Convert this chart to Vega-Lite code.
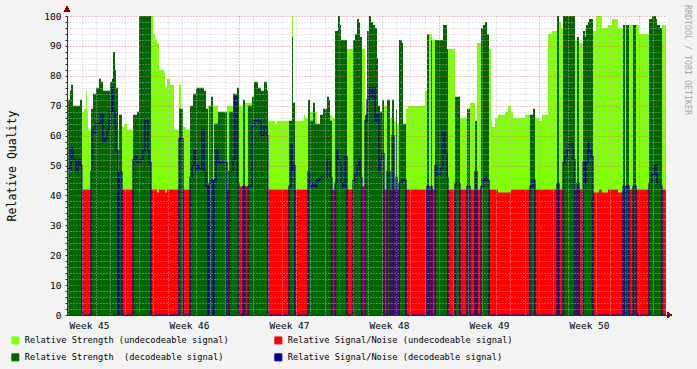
{
"$schema": "https://vega.github.io/schema/vega-lite/v6.json",
"width": 600, "height": 299,
"autosize": {"type": "none"},
"padding": {"left": 67, "top": 16, "right": 30, "bottom": 54},
"background": "#F3F3F3",
"view": {"fill": "#FFFFFF", "stroke": null},
"config": {"font": "DejaVu Sans Mono", "axis": {"labelOverlap": false}, "axisY": {"labelOverlap": false}},
"title": {"text": "RRDTOOL / TOBI OETIKER", "orient": "right", "anchor": "start", "frame": "group", "font": "DejaVu Sans Mono", "fontSize": 8.3, "fontWeight": "normal", "color": "#A8A8A8", "offset": 12, "dx": -11},
"data": {"values": [
{"t":1.96,"su":0,"nu":0,"sd":72,"nd":49},
{"t":2.17,"su":0,"nu":0,"sd":75,"nd":49},
{"t":2.24,"su":0,"nu":0,"sd":77,"nd":56},
{"t":2.38,"su":0,"nu":0,"sd":70,"nd":52},
{"t":2.59,"su":0,"nu":0,"sd":70,"nd":48},
{"t":2.73,"su":0,"nu":0,"sd":70,"nd":52},
{"t":2.87,"su":0,"nu":0,"sd":72,"nd":50},
{"t":3.01,"su":68,"nu":42,"sd":0,"nd":0},
{"t":3.15,"su":69,"nu":42,"sd":0,"nd":0},
{"t":3.29,"su":75,"nu":42,"sd":0,"nd":0},
{"t":3.36,"su":68,"nu":42,"sd":0,"nd":0},
{"t":3.43,"su":62,"nu":42,"sd":0,"nd":0},
{"t":3.64,"su":0,"nu":0,"sd":69,"nd":48},
{"t":3.71,"su":0,"nu":0,"sd":69,"nd":62},
{"t":3.78,"su":0,"nu":0,"sd":74,"nd":61},
{"t":3.99,"su":0,"nu":0,"sd":76,"nd":64},
{"t":4.2,"su":0,"nu":0,"sd":79,"nd":64},
{"t":4.34,"su":0,"nu":0,"sd":78,"nd":67},
{"t":4.48,"su":0,"nu":0,"sd":75,"nd":58},
{"t":4.62,"su":0,"nu":0,"sd":75,"nd":59},
{"t":4.76,"su":0,"nu":0,"sd":75,"nd":62},
{"t":4.9,"su":0,"nu":0,"sd":75,"nd":65},
{"t":4.97,"su":0,"nu":0,"sd":78,"nd":68},
{"t":5.11,"su":0,"nu":0,"sd":79,"nd":76},
{"t":5.18,"su":0,"nu":0,"sd":88,"nd":68},
{"t":5.32,"su":0,"nu":0,"sd":82,"nd":64},
{"t":5.39,"su":0,"nu":0,"sd":76,"nd":55},
{"t":5.53,"su":62,"nu":43,"sd":0,"nd":0},
{"t":5.6,"su":0,"nu":0,"sd":67,"nd":48},
{"t":5.81,"su":63,"nu":42,"sd":0,"nd":0},
{"t":5.95,"su":64,"nu":42,"sd":0,"nd":0},
{"t":6.16,"su":62,"nu":42,"sd":0,"nd":0},
{"t":6.58,"su":0,"nu":0,"sd":67,"nd":52},
{"t":6.72,"su":0,"nu":0,"sd":67,"nd":53},
{"t":6.86,"su":0,"nu":0,"sd":68,"nd":51},
{"t":7.0,"su":0,"nu":0,"sd":100,"nd":51},
{"t":7.07,"su":0,"nu":0,"sd":100,"nd":52},
{"t":7.28,"su":0,"nu":0,"sd":100,"nd":55},
{"t":7.42,"su":0,"nu":0,"sd":100,"nd":65},
{"t":7.63,"su":0,"nu":0,"sd":100,"nd":55},
{"t":7.7,"su":0,"nu":0,"sd":100,"nd":51},
{"t":7.84,"su":100,"nu":42,"sd":0,"nd":0},
{"t":7.98,"su":94,"nu":42,"sd":0,"nd":0},
{"t":8.12,"su":92,"nu":42,"sd":0,"nd":0},
{"t":8.26,"su":91,"nu":41,"sd":0,"nd":0},
{"t":8.4,"su":82,"nu":42,"sd":0,"nd":0},
{"t":8.75,"su":81,"nu":42,"sd":0,"nd":0},
{"t":8.82,"su":76,"nu":41,"sd":0,"nd":0},
{"t":8.96,"su":79,"nu":42,"sd":0,"nd":0},
{"t":9.17,"su":77,"nu":42,"sd":0,"nd":0},
{"t":9.45,"su":62,"nu":42,"sd":0,"nd":0},
{"t":9.8,"su":77,"nu":0,"sd":69,"nd":59},
{"t":9.94,"su":0,"nu":0,"sd":69,"nd":59},
{"t":10.08,"su":63,"nu":42,"sd":0,"nd":0},
{"t":10.29,"su":62,"nu":42,"sd":0,"nd":0},
{"t":10.57,"su":0,"nu":0,"sd":70,"nd":46},
{"t":10.71,"su":0,"nu":0,"sd":70,"nd":50},
{"t":10.78,"su":0,"nu":0,"sd":74,"nd":50},
{"t":10.85,"su":0,"nu":0,"sd":74,"nd":55},
{"t":10.99,"su":0,"nu":0,"sd":76,"nd":48},
{"t":11.06,"su":0,"nu":0,"sd":76,"nd":50},
{"t":11.2,"su":0,"nu":0,"sd":76,"nd":49},
{"t":11.41,"su":0,"nu":0,"sd":76,"nd":62},
{"t":11.55,"su":0,"nu":0,"sd":75,"nd":48},
{"t":11.69,"su":0,"nu":0,"sd":69,"nd":43},
{"t":11.83,"su":70,"nu":42,"sd":0,"nd":0},
{"t":11.9,"su":70,"nu":0,"sd":70,"nd":44},
{"t":12.04,"su":70,"nu":0,"sd":73,"nd":45},
{"t":12.18,"su":70,"nu":42,"sd":0,"nd":0},
{"t":12.25,"su":70,"nu":0,"sd":64,"nd":45},
{"t":12.39,"su":70,"nu":0,"sd":64,"nd":55},
{"t":12.53,"su":0,"nu":0,"sd":68,"nd":51},
{"t":13.16,"su":70,"nu":42,"sd":0,"nd":0},
{"t":13.3,"su":70,"nu":0,"sd":68,"nd":48},
{"t":13.58,"su":70,"nu":0,"sd":74,"nd":52},
{"t":13.72,"su":0,"nu":0,"sd":74,"nd":73},
{"t":13.86,"su":0,"nu":0,"sd":76,"nd":44},
{"t":14.0,"su":70,"nu":43,"sd":0,"nd":0},
{"t":14.28,"su":71,"nu":0,"sd":72,"nd":43},
{"t":14.42,"su":71,"nu":43,"sd":0,"nd":0},
{"t":14.63,"su":71,"nu":0,"sd":70,"nd":43},
{"t":14.91,"su":0,"nu":0,"sd":73,"nd":63},
{"t":15.05,"su":0,"nu":0,"sd":78,"nd":65},
{"t":15.33,"su":0,"nu":0,"sd":76,"nd":65},
{"t":15.54,"su":0,"nu":0,"sd":75,"nd":60},
{"t":15.75,"su":0,"nu":0,"sd":78,"nd":63},
{"t":15.96,"su":0,"nu":0,"sd":75,"nd":60},
{"t":16.03,"su":65,"nu":42,"sd":0,"nd":0},
{"t":16.52,"su":64,"nu":42,"sd":0,"nd":0},
{"t":16.66,"su":65,"nu":42,"sd":0,"nd":0},
{"t":17.5,"su":0,"nu":0,"sd":65,"nd":43},
{"t":17.64,"su":0,"nu":0,"sd":65,"nd":57},
{"t":17.71,"su":100,"nu":0,"sd":93,"nd":48},
{"t":17.78,"su":0,"nu":0,"sd":71,"nd":50},
{"t":17.92,"su":65,"nu":42,"sd":0,"nd":0},
{"t":18.55,"su":67,"nu":42,"sd":0,"nd":0},
{"t":18.62,"su":66,"nu":42,"sd":0,"nd":0},
{"t":18.83,"su":0,"nu":0,"sd":72,"nd":48},
{"t":18.97,"su":68,"nu":0,"sd":65,"nd":43},
{"t":19.18,"su":0,"nu":0,"sd":71,"nd":44},
{"t":19.32,"su":68,"nu":0,"sd":64,"nd":43},
{"t":19.46,"su":0,"nu":0,"sd":64,"nd":45},
{"t":19.67,"su":0,"nu":0,"sd":67,"nd":46},
{"t":19.88,"su":0,"nu":0,"sd":69,"nd":46},
{"t":20.16,"su":0,"nu":0,"sd":73,"nd":52},
{"t":20.3,"su":0,"nu":0,"sd":72,"nd":52},
{"t":20.37,"su":67,"nu":0,"sd":65,"nd":46},
{"t":20.51,"su":66,"nu":42,"sd":0,"nd":0},
{"t":20.72,"su":0,"nu":0,"sd":95,"nd":44},
{"t":20.86,"su":0,"nu":0,"sd":95,"nd":55},
{"t":20.93,"su":0,"nu":0,"sd":100,"nd":52},
{"t":21.07,"su":0,"nu":0,"sd":97,"nd":50},
{"t":21.14,"su":92,"nu":0,"sd":92,"nd":44},
{"t":21.28,"su":92,"nu":0,"sd":92,"nd":43},
{"t":21.42,"su":92,"nu":0,"sd":92,"nd":53},
{"t":21.56,"su":89,"nu":42,"sd":0,"nd":0},
{"t":21.98,"su":0,"nu":0,"sd":92,"nd":45},
{"t":22.12,"su":0,"nu":0,"sd":94,"nd":47},
{"t":22.26,"su":0,"nu":0,"sd":99,"nd":50},
{"t":22.4,"su":0,"nu":0,"sd":98,"nd":52},
{"t":22.47,"su":0,"nu":0,"sd":93,"nd":46},
{"t":22.61,"su":89,"nu":43,"sd":0,"nd":0},
{"t":22.82,"su":0,"nu":0,"sd":67,"nd":65},
{"t":22.96,"su":0,"nu":0,"sd":95,"nd":72},
{"t":23.1,"su":0,"nu":0,"sd":100,"nd":76},
{"t":23.24,"su":0,"nu":0,"sd":98,"nd":73},
{"t":23.38,"su":0,"nu":0,"sd":97,"nd":76},
{"t":23.52,"su":0,"nu":0,"sd":96,"nd":65},
{"t":23.66,"su":0,"nu":0,"sd":86,"nd":67},
{"t":23.73,"su":0,"nu":0,"sd":70,"nd":67},
{"t":23.8,"su":0,"nu":0,"sd":70,"nd":48},
{"t":23.87,"su":0,"nu":0,"sd":68,"nd":52},
{"t":24.01,"su":0,"nu":0,"sd":72,"nd":54},
{"t":24.15,"su":70,"nu":42,"sd":0,"nd":0},
{"t":24.36,"su":0,"nu":0,"sd":72,"nd":48},
{"t":24.57,"su":66,"nu":42,"sd":0,"nd":0},
{"t":24.71,"su":0,"nu":0,"sd":72,"nd":60},
{"t":24.85,"su":65,"nu":42,"sd":0,"nd":0},
{"t":24.99,"su":0,"nu":0,"sd":69,"nd":46},
{"t":25.06,"su":64,"nu":42,"sd":0,"nd":0},
{"t":25.2,"su":0,"nu":0,"sd":92,"nd":44},
{"t":25.41,"su":0,"nu":0,"sd":91,"nd":45},
{"t":25.48,"su":0,"nu":0,"sd":64,"nd":45},
{"t":25.69,"su":69,"nu":42,"sd":0,"nd":0},
{"t":25.83,"su":70,"nu":42,"sd":0,"nd":0},
{"t":27.02,"su":75,"nu":42,"sd":0,"nd":0},
{"t":27.16,"su":0,"nu":0,"sd":94,"nd":43},
{"t":27.3,"su":94,"nu":42,"sd":0,"nd":0},
{"t":27.44,"su":94,"nu":0,"sd":92,"nd":43},
{"t":27.51,"su":92,"nu":42,"sd":0,"nd":0},
{"t":27.72,"su":0,"nu":0,"sd":92,"nd":50},
{"t":27.86,"su":0,"nu":0,"sd":92,"nd":47},
{"t":28.07,"su":0,"nu":0,"sd":92,"nd":49},
{"t":28.28,"su":0,"nu":0,"sd":97,"nd":61},
{"t":28.42,"su":0,"nu":0,"sd":97,"nd":54},
{"t":28.56,"su":89,"nu":0,"sd":89,"nd":46},
{"t":28.63,"su":89,"nu":42,"sd":0,"nd":0},
{"t":29.12,"su":73,"nu":0,"sd":73,"nd":44},
{"t":29.26,"su":0,"nu":0,"sd":73,"nd":44},
{"t":29.47,"su":66,"nu":42,"sd":0,"nd":0},
{"t":29.96,"su":0,"nu":0,"sd":69,"nd":43},
{"t":30.17,"su":71,"nu":42,"sd":0,"nd":0},
{"t":30.52,"su":0,"nu":0,"sd":65,"nd":48},
{"t":30.66,"su":91,"nu":42,"sd":0,"nd":0},
{"t":30.94,"su":0,"nu":0,"sd":96,"nd":43},
{"t":31.08,"su":0,"nu":0,"sd":97,"nd":45},
{"t":31.22,"su":0,"nu":0,"sd":98,"nd":46},
{"t":31.36,"su":0,"nu":0,"sd":94,"nd":45},
{"t":31.5,"su":89,"nu":42,"sd":0,"nd":0},
{"t":31.64,"su":65,"nu":42,"sd":0,"nd":0},
{"t":31.71,"su":63,"nu":42,"sd":0,"nd":0},
{"t":31.92,"su":66,"nu":42,"sd":0,"nd":0},
{"t":32.13,"su":67,"nu":41,"sd":0,"nd":0},
{"t":32.62,"su":68,"nu":41,"sd":0,"nd":0},
{"t":32.83,"su":70,"nu":41,"sd":0,"nd":0},
{"t":33.04,"su":68,"nu":42,"sd":0,"nd":0},
{"t":33.18,"su":66,"nu":42,"sd":0,"nd":0},
{"t":34.02,"su":67,"nu":42,"sd":0,"nd":0},
{"t":34.37,"su":0,"nu":0,"sd":67,"nd":43},
{"t":34.58,"su":0,"nu":0,"sd":69,"nd":45},
{"t":34.72,"su":66,"nu":42,"sd":0,"nd":0},
{"t":35.0,"su":65,"nu":42,"sd":0,"nd":0},
{"t":35.21,"su":67,"nu":42,"sd":0,"nd":0},
{"t":35.63,"su":94,"nu":42,"sd":0,"nd":0},
{"t":35.91,"su":95,"nu":42,"sd":0,"nd":0},
{"t":36.26,"su":97,"nu":0,"sd":100,"nd":44},
{"t":36.4,"su":98,"nu":42,"sd":0,"nd":0},
{"t":36.54,"su":96,"nu":42,"sd":0,"nd":0},
{"t":36.68,"su":0,"nu":0,"sd":100,"nd":51},
{"t":36.82,"su":0,"nu":0,"sd":100,"nd":53},
{"t":36.96,"su":0,"nu":0,"sd":100,"nd":55},
{"t":37.1,"su":0,"nu":0,"sd":100,"nd":58},
{"t":37.31,"su":0,"nu":0,"sd":100,"nd":56},
{"t":37.38,"su":0,"nu":0,"sd":100,"nd":52},
{"t":37.52,"su":92,"nu":42,"sd":0,"nd":0},
{"t":37.66,"su":93,"nu":0,"sd":93,"nd":44},
{"t":37.8,"su":91,"nu":42,"sd":0,"nd":0},
{"t":38.08,"su":0,"nu":0,"sd":95,"nd":51},
{"t":38.22,"su":96,"nu":0,"sd":93,"nd":44},
{"t":38.29,"su":0,"nu":0,"sd":97,"nd":51},
{"t":38.43,"su":0,"nu":0,"sd":98,"nd":58},
{"t":38.5,"su":0,"nu":0,"sd":99,"nd":55},
{"t":38.64,"su":0,"nu":0,"sd":99,"nd":53},
{"t":38.78,"su":95,"nu":41,"sd":0,"nd":0},
{"t":38.99,"su":100,"nu":41,"sd":0,"nd":0},
{"t":39.2,"su":100,"nu":42,"sd":0,"nd":0},
{"t":39.41,"su":96,"nu":41,"sd":0,"nd":0},
{"t":39.83,"su":97,"nu":42,"sd":0,"nd":0},
{"t":40.11,"su":99,"nu":42,"sd":0,"nd":0},
{"t":40.53,"su":96,"nu":41,"sd":0,"nd":0},
{"t":40.88,"su":0,"nu":0,"sd":97,"nd":43},
{"t":41.02,"su":98,"nu":42,"sd":0,"nd":0},
{"t":41.09,"su":0,"nu":0,"sd":97,"nd":43},
{"t":41.3,"su":97,"nu":42,"sd":0,"nd":0},
{"t":41.58,"su":0,"nu":0,"sd":97,"nd":43},
{"t":41.79,"su":97,"nu":42,"sd":0,"nd":0},
{"t":42.0,"su":94,"nu":42,"sd":0,"nd":0},
{"t":42.7,"su":0,"nu":0,"sd":99,"nd":44},
{"t":42.91,"su":0,"nu":0,"sd":100,"nd":47},
{"t":43.05,"su":0,"nu":0,"sd":100,"nd":50},
{"t":43.19,"su":0,"nu":0,"sd":99,"nd":47},
{"t":43.26,"su":0,"nu":0,"sd":97,"nd":44},
{"t":43.47,"su":0,"nu":0,"sd":96,"nd":43},
{"t":43.61,"su":97,"nu":42,"sd":0,"nd":0},
{"t":43.89,"su":97,"nu":42,"sd":0,"nd":0}
]},
"encoding": {
  "x": {"field": "t", "type": "quantitative",
    "scale": {"domain": [1.96, 43.96], "nice": false, "zero": false},
    "axis": {
      "values": [2,3,3.5,4,5,6,7,8,9,10,10.5,11,12,13,14,15,16,17,17.5,18,19,20,21,22,23,24,24.5,25,26,27,28,29,30,31,31.5,32,33,34,35,36,37,38,38.5,39,40,41,42,43],
      "tickCount": 200,
      "labelExpr": "datum.value % 1 == 0.5 ? 'Week ' + (45 + floor(datum.value / 7)) : ''",
      "grid": true,
      "gridColor": {"condition": {"test": "datum.value % 7 == 0", "value": "#E07070"}, "value": "#C4C4C4"},
      "gridOpacity": {"condition": {"test": "datum.value % 1 != 0", "value": 0}, "value": 0.85},
      "gridDash": [1, 2],
      "ticks": false,
      "labelFont": "DejaVu Sans Mono", "labelFontSize": 9.5, "labelColor": "#000000",
      "labelPadding": 5, "labelFlush": false, "labelOverlap": false, "labelBound": false,
      "domainColor": "#333333", "title": null, "zindex": 1
    }
  }
},
"layer": [
  {"mark": {"type": "area", "interpolate": "step-after"},
   "encoding": {"y": {"field": "su", "type": "quantitative",
      "scale": {"domain": [0, 100], "nice": false},
      "axis": {
        "values": [0,2,4,6,8,10,12,14,16,18,20,22,24,26,28,30,32,34,36,38,40,42,44,46,48,50,52,54,56,58,60,62,64,66,68,70,72,74,76,78,80,82,84,86,88,90,92,94,96,98,100],
        "tickCount": 200,
        "format": "d",
        "labelExpr": "datum.value % 10 == 0 ? datum.label : ''",
        "grid": true,
        "gridColor": {"condition": {"test": "datum.value % 10 == 0", "value": "#E07070"}, "value": "#C4C4C4"},
        "gridOpacity": 0.85,
        "gridDash": [1, 2],
        "tickSize": 2, "tickColor": "#333333",
        "labelFont": "DejaVu Sans Mono", "labelFontSize": 9.5, "labelColor": "#000000",
        "labelPadding": 4, "labelOverlap": false, "labelBound": false,
        "domainColor": "#333333",
        "title": "Relative Quality", "titleFont": "DejaVu Sans Mono", "titleFontSize": 11.5,
        "titleFontWeight": "normal", "titleColor": "#000000", "titlePadding": 26,
        "zindex": 1
      }},
     "color": {"datum": "Relative Strength (undecodeable signal)", "type": "nominal",
       "scale": {"domain": ["Relative Strength (undecodeable signal)", "Relative Signal/Noise (undecodeable signal)", "Relative Strength\u00a0 (decodeable signal)", "Relative Signal/Noise (decodeable signal)"],
                 "range": ["#80FF00", "#FF0000", "#006600", "#000099"]},
       "legend": {"orient": "none", "direction": "horizontal", "legendX": -56, "legendY": 320, "columns": 2, "title": null,
         "symbolType": "square", "symbolSize": 49, "symbolStrokeColor": "#000000", "symbolStrokeWidth": 1,
         "labelFont": "DejaVu Sans Mono", "labelFontSize": 8.7, "labelColor": "#000000", "labelLimit": 400,
         "labelOffset": 5, "rowPadding": 5, "columnPadding": 43, "padding": 0,
         "encode": {"symbols": {"update": {"fill": {"scale": "color", "field": "value"}, "stroke": {"value": "#000000"}, "shape": {"value": "square"}, "strokeWidth": {"value": 1}, "opacity": {"value": 1}, "fillOpacity": {"value": 1}}}}}
     }}},
  {"mark": {"type": "area", "interpolate": "step-after"},
   "encoding": {"y": {"field": "nu", "type": "quantitative"},
     "color": {"datum": "Relative Signal/Noise (undecodeable signal)", "type": "nominal"}}},
  {"mark": {"type": "area", "interpolate": "step-after"},
   "encoding": {"y": {"field": "sd", "type": "quantitative"},
     "color": {"datum": "Relative Strength\u00a0 (decodeable signal)", "type": "nominal"}}},
  {"mark": {"type": "line", "interpolate": "step-after", "strokeWidth": 1.2},
   "encoding": {"y": {"field": "nd", "type": "quantitative"},
     "color": {"datum": "Relative Signal/Noise (decodeable signal)", "type": "nominal"}}},
  {"mark": {"type": "point", "shape": "triangle-up", "filled": true, "size": 28, "color": "#800000", "opacity": 1, "clip": false},
   "encoding": {"x": {"datum": 1.96}, "y": {"datum": 102.3}}},
  {"mark": {"type": "point", "shape": "triangle-right", "filled": true, "size": 28, "color": "#800000", "opacity": 1, "clip": false},
   "encoding": {"x": {"datum": 44.12}, "y": {"datum": 0}}}
]
}
